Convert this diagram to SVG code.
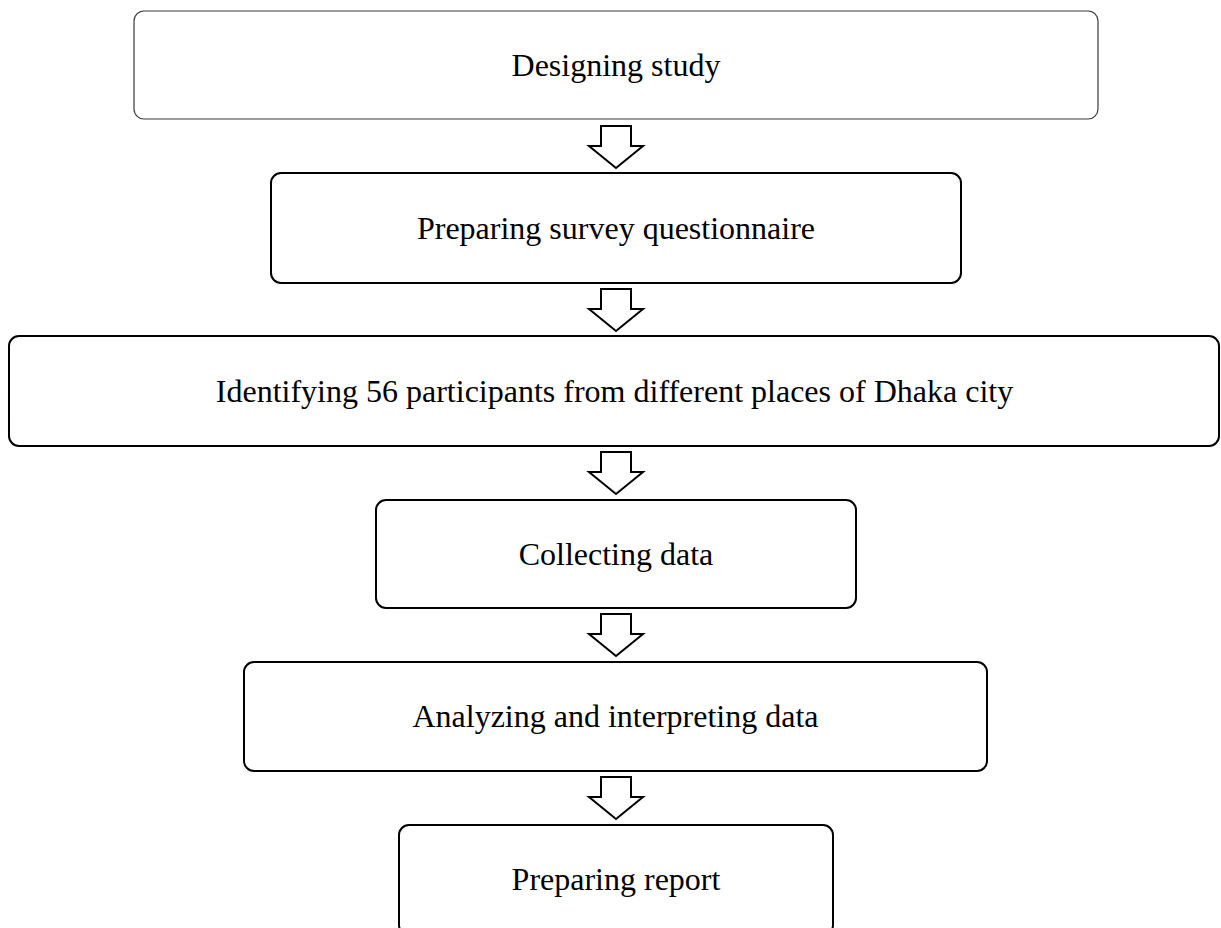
<svg xmlns="http://www.w3.org/2000/svg" width="1221" height="928" viewBox="0 0 1221 928">
  <style>
    .box { fill: #ffffff; stroke: #000000; stroke-width: 2; }
    .thin { stroke: #3a3a3a; stroke-width: 1.2; }
    .lbl { font-family: "Liberation Serif", "Times New Roman", serif; font-size: 32px; fill: #000000; text-anchor: middle; }
    .arrow { fill: #ffffff; stroke: #000000; stroke-width: 2; stroke-linejoin: miter; }
  </style>
  <defs>
    <path id="blockArrow" d="M601,0 H631 V20 H643 L616,42 L589,20 H601 Z"/>
  </defs>
  <rect width="1221" height="928" fill="#ffffff"/>
  <g id="connectors">
    <use href="#blockArrow" class="arrow" transform="translate(0,126)"/>
    <use href="#blockArrow" class="arrow" transform="translate(0,289)"/>
    <use href="#blockArrow" class="arrow" transform="translate(0,452)"/>
    <use href="#blockArrow" class="arrow" transform="translate(0,614)"/>
    <use href="#blockArrow" class="arrow" transform="translate(0,777)"/>
  </g>
  <g id="node1">
    <rect class="box thin" x="134" y="11" width="964" height="108" rx="10" ry="10"/>
    <text class="lbl" x="616" y="76">Designing study</text>
  </g>
  <g id="node2">
    <rect class="box" x="271" y="173" width="690" height="110" rx="10" ry="10"/>
    <text class="lbl" x="616" y="239">Preparing survey questionnaire</text>
  </g>
  <g id="node3">
    <rect class="box" x="9" y="336" width="1210" height="110" rx="10" ry="10"/>
    <text class="lbl" x="614.5" y="402">Identifying 56 participants from different places of Dhaka city</text>
  </g>
  <g id="node4">
    <rect class="box" x="376" y="500" width="480" height="108" rx="10" ry="10"/>
    <text class="lbl" x="616" y="565">Collecting data</text>
  </g>
  <g id="node5">
    <rect class="box" x="244" y="662" width="743" height="109" rx="10" ry="10"/>
    <text class="lbl" x="615.5" y="727">Analyzing and interpreting data</text>
  </g>
  <g id="node6">
    <rect class="box" x="399" y="825" width="434" height="110" rx="10" ry="10"/>
    <text class="lbl" x="616" y="890">Preparing report</text>
  </g>
</svg>
